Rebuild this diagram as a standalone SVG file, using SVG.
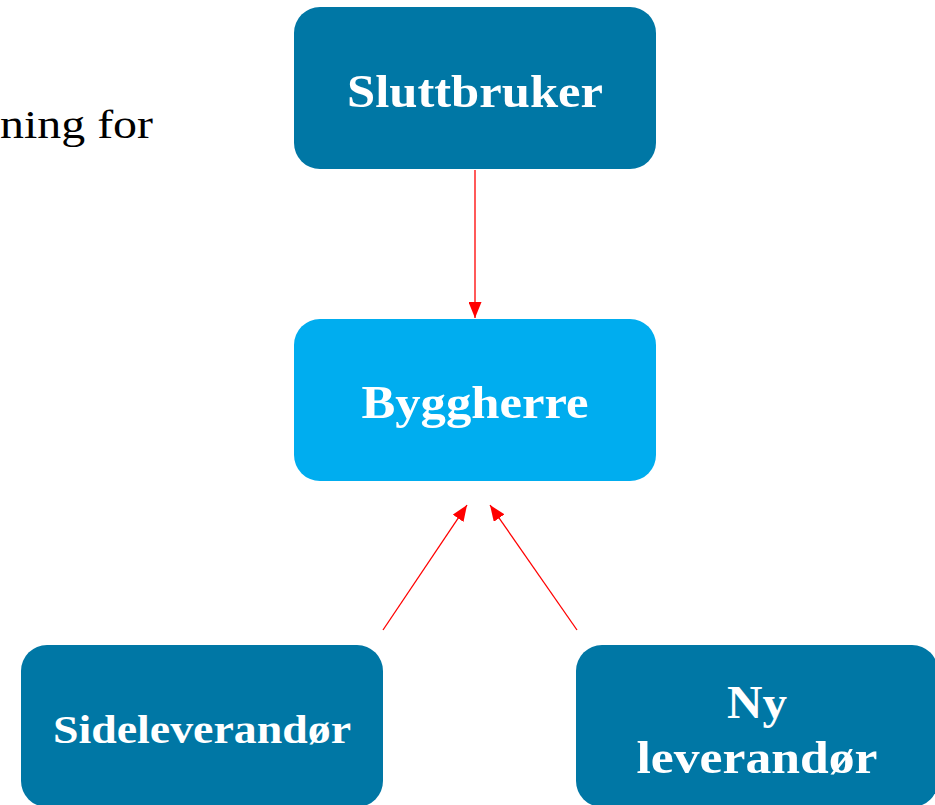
<svg xmlns="http://www.w3.org/2000/svg" width="935" height="805" viewBox="0 0 935 805">
<style>
.dark{fill:#0077A5}
.light{fill:#00ADEF}
.lbl{font-family:"Liberation Serif","DejaVu Serif",serif;font-weight:bold;fill:#FFFFFF;text-anchor:middle}
.conn{stroke:#FF0000;stroke-width:1.3;fill:none;marker-end:url(#ah)}
</style>
<defs>
<marker id="ah" viewBox="0 0 16 13" refX="16" refY="6.5" markerWidth="16" markerHeight="13" markerUnits="userSpaceOnUse" orient="auto">
<path d="M0,0 L16,6.5 L0,13 z" fill="#FF0000"/>
</marker>
</defs>
<rect width="935" height="805" fill="#FFFFFF"/>
<text x="153" y="138" text-anchor="end" font-family="Liberation Serif,serif" font-size="40" fill="#000000" textLength="153" lengthAdjust="spacingAndGlyphs">ning for</text>
<g id="connectors">
<line class="conn" x1="475" y1="170" x2="475" y2="318"/>
<line class="conn" x1="383" y1="630" x2="467" y2="505"/>
<line class="conn" x1="577" y1="630" x2="490" y2="505"/>
</g>
<g id="sluttbruker">
<rect class="dark" x="294" y="7" width="362" height="162" rx="26"/>
<text class="lbl" x="475" y="107" font-size="46" textLength="256" lengthAdjust="spacingAndGlyphs">Sluttbruker</text>
</g>
<g id="byggherre">
<rect class="light" x="294" y="319" width="362" height="162" rx="26"/>
<text class="lbl" x="475" y="418" font-size="46" textLength="227" lengthAdjust="spacingAndGlyphs">Byggherre</text>
</g>
<g id="sideleverandor">
<rect class="dark" x="21" y="645" width="362" height="162" rx="26"/>
<text class="lbl" x="202" y="743" font-size="40" textLength="298" lengthAdjust="spacingAndGlyphs">Sideleverandør</text>
</g>
<g id="nyleverandor">
<rect class="dark" x="576" y="645" width="362" height="162" rx="26"/>
<text class="lbl" x="757" y="718" font-size="46" textLength="60" lengthAdjust="spacingAndGlyphs">Ny</text>
<text class="lbl" x="757" y="773" font-size="46" textLength="241" lengthAdjust="spacingAndGlyphs">leverandør</text>
</g>
</svg>
